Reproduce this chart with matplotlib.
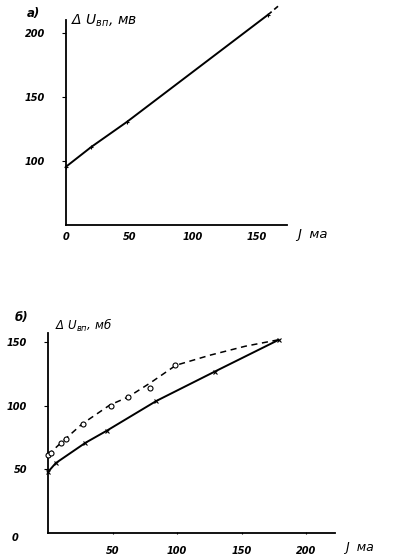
import matplotlib
matplotlib.use("Agg")
import matplotlib.pyplot as plt

# ---- data: panel a) ----
a_current = [0, 20, 48, 159]
a_voltage = [95.5, 111, 130.5, 214]
a_ext_current = [159, 168.5]
a_ext_voltage = [214, 222]
a_xticks = [0, 50, 100, 150]
a_yticks = [100, 150, 200]

# ---- data: panel б) ----
# measured points (circles) and the drawn dashed curve through them
b_circ_current = [0, 2, 10, 14, 27, 49, 62, 79, 98]
b_circ_voltage = [61.4, 62.7, 71, 74, 85.6, 100, 107, 114, 132]
b_dash_current = [0, 10, 26.4, 48, 62, 79, 99, 125.6, 152.7, 178]
b_dash_voltage = [61.4, 70.9, 85.8, 100.8, 107, 118, 132, 140, 147, 152]
b_cross_current = [0, 6, 29, 45.5, 84, 129, 178.5]
b_cross_voltage = [48, 55, 71, 80.5, 104, 127, 152]
b_xticks = [50, 100, 150, 200]
b_yticks = [50, 100, 150]

plt.rcParams['font.family'] = ['DejaVu Sans']
fig = plt.figure(figsize=(3.93, 5.59), dpi=100)
fig.patch.set_facecolor('white')

tick_font = dict(fontsize=7, fontstyle='italic', fontweight='bold')

# ---------- panel a ----------
ax1 = fig.add_axes([0.168, 0.5975, 0.562, 0.3667])
ax1.set_xlim(0, 174)
ax1.set_ylim(50, 210)
ax1.plot(a_current, a_voltage, color='black', lw=1.4, marker='+', ms=3,
         mew=0.8, clip_on=False, zorder=3)
ax1.plot(a_ext_current, a_ext_voltage, color='black', lw=1.2,
         linestyle=(0, (3, 2)), clip_on=False)
for s in ['top', 'right']:
    ax1.spines[s].set_visible(False)
for s in ['left', 'bottom']:
    ax1.spines[s].set_linewidth(1.3)
ax1.set_xticks(a_xticks)
ax1.set_yticks(a_yticks)
ax1.set_xticklabels([str(v) for v in a_xticks], **tick_font)
ax1.set_yticklabels([str(v) for v in a_yticks], **tick_font)
ax1.tick_params(axis='y', direction='out', length=3, width=0.8, pad=12)
ax1.tick_params(axis='x', direction='inout', length=0, width=0.8, pad=5)
fig.text(33 / 393, 1 - 13 / 559, 'а)', fontsize=8.5,
         fontstyle='italic', fontweight='bold', ha='center', va='center')
fig.text(71 / 393, 1 - 21 / 559, r'Δ $U_{вп}$, мв', fontsize=10,
         fontstyle='italic', ha='left', va='center')
fig.text(297 / 393, 1 - 234 / 559, 'J  ма', fontsize=9.5, fontstyle='italic',
         ha='left', va='center')

# ---------- panel б ----------
ax2 = fig.add_axes([0.122, 0.0465, 0.730, 0.358])
ax2.set_xlim(0, 222)
ax2.set_ylim(0, 157.5)
ax2.plot(b_dash_current, b_dash_voltage, color='black', lw=1.1,
         linestyle=(0, (4, 3)), clip_on=False, zorder=2)
ax2.plot(b_circ_current, b_circ_voltage,
         linestyle='none', marker='o', ms=3.6, mfc='white', mec='black',
         mew=0.8, clip_on=False, zorder=3)
ax2.plot(b_cross_current, b_cross_voltage, color='black', lw=1.4,
         marker='x', ms=2.5, mew=0.8, clip_on=False, zorder=3)
for s in ['top', 'right']:
    ax2.spines[s].set_visible(False)
for s in ['left', 'bottom']:
    ax2.spines[s].set_linewidth(1.3)
ax2.set_xticks(b_xticks)
ax2.set_yticks(b_yticks)
ax2.set_xticklabels([str(v) for v in b_xticks], **tick_font)
ax2.set_yticklabels([str(v) for v in b_yticks], **tick_font)
ax2.tick_params(axis='y', direction='out', length=3, width=0.8, pad=12)
ax2.tick_params(axis='x', direction='inout', length=2, width=0.8, pad=8)
fig.text(15 / 393, 1 - 538 / 559, '0', **tick_font, ha='center', va='center')
fig.text(22 / 393, 1 - 317 / 559, 'б)', fontsize=8.5,
         fontstyle='italic', fontweight='bold', ha='center', va='center')
fig.text(55 / 393, 1 - 325 / 559, r'Δ $U_{вп}$, мб',
         fontsize=8.5, fontstyle='italic', ha='left', va='center')
fig.text(345 / 393, 1 - 548 / 559, 'J  ма', fontsize=9, fontstyle='italic',
         ha='left', va='center')

fig.savefig('out.png', dpi=100, facecolor='white')
